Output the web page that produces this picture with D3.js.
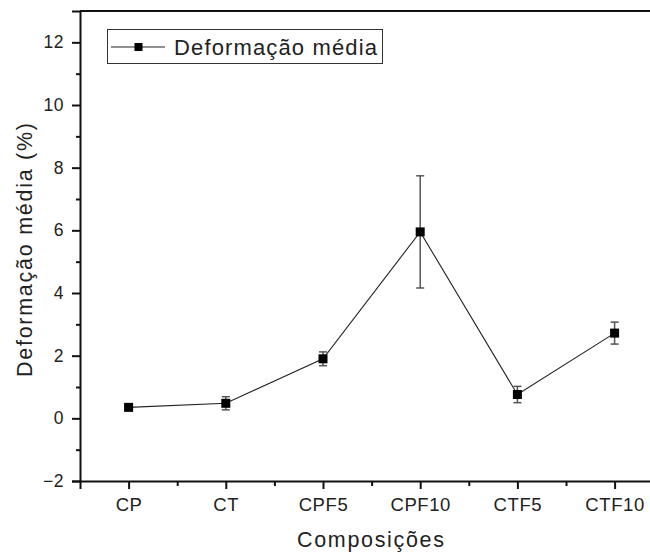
<!DOCTYPE html>
<html>
<head>
<meta charset="utf-8">
<script src="https://cdn.jsdelivr.net/npm/d3@7"></script>
<style>
  body { margin: 0; background: #fff; }
  text { font-family: "Liberation Sans", Arial, sans-serif; fill: #222; }
</style>
</head>
<body>
<div id="divbody"></div>
<script>
var categories = ["CP", "CT", "CPF5", "CPF10", "CTF5", "CTF10"];
var means = [0.35, 0.48, 1.9, 5.95, 0.76, 2.72];
var errors = [0.05, 0.21, 0.22, 1.79, 0.26, 0.35];
var yTicks = [-2, 0, 2, 4, 6, 8, 10, 12];

var width = 650, height = 557;
var plotLeft = 80, plotTop = 11, plotBottom = 481;
var step = 97.2;
var plotRight = plotLeft + step * 6;

var svg = d3.select("#divbody").append("svg")
  .attr("width", width)
  .attr("height", height);

var x = d3.scaleLinear().domain([0.5, 6.5]).range([plotLeft, plotRight]);
var y = d3.scaleLinear().domain([-2, 13]).range([plotBottom, plotTop]);

var data = categories.map(function(c, i) {
  return {name: c, pos: i + 1, v: means[i], e: errors[i]};
});

// top frame line (right side falls off the picture)
svg.append("line")
  .attr("x1", plotLeft).attr("x2", plotRight)
  .attr("y1", plotTop).attr("y2", plotTop)
  .attr("stroke", "#111").attr("stroke-width", 2);

// y axis
var yAxis = svg.append("g")
  .attr("transform", "translate(" + plotLeft + ",0)")
  .call(d3.axisLeft(y).tickValues(yTicks).tickSize(8).tickPadding(8)
    .tickFormat(function(d) { return d < 0 ? "\u2212" + Math.abs(d) : d; }));
yAxis.select(".domain").attr("stroke-width", 2).attr("stroke", "#111");
yAxis.selectAll(".tick line").attr("stroke-width", 2).attr("stroke", "#111");
yAxis.selectAll(".tick text").style("font-size", "17.5px").style("letter-spacing", "0.5px")
  .style("font-family", "Liberation Sans, Arial, sans-serif").attr("fill", "#222");

svg.append("g")
  .attr("transform", "translate(" + plotLeft + ",0)")
  .call(d3.axisLeft(y).tickValues(d3.range(-1, 13, 2)).tickSize(4).tickFormat(""))
  .call(function(g) {
    g.select(".domain").remove();
    g.selectAll("line").attr("stroke-width", 2).attr("stroke", "#111");
  });

// x axis
var xAxis = svg.append("g")
  .attr("transform", "translate(0," + plotBottom + ")")
  .call(d3.axisBottom(x).tickValues(d3.range(1, 7)).tickSize(8).tickPadding(9)
    .tickFormat(function(d) { return categories[d - 1]; }));
xAxis.select(".domain").attr("stroke-width", 2).attr("stroke", "#111");
xAxis.selectAll(".tick line").attr("stroke-width", 2).attr("stroke", "#111");
xAxis.selectAll(".tick text").style("font-size", "18.5px").style("letter-spacing", "0.6px")
  .style("font-family", "Liberation Sans, Arial, sans-serif").attr("fill", "#222");

svg.append("g")
  .attr("transform", "translate(0," + plotBottom + ")")
  .call(d3.axisBottom(x).tickValues(d3.range(1.5, 7, 1)).tickSize(5).tickFormat(""))
  .call(function(g) {
    g.select(".domain").remove();
    g.selectAll("line").attr("stroke-width", 2).attr("stroke", "#111");
  });

// axis titles
svg.append("text")
  .attr("x", 297).attr("y", 547)
  .attr("textLength", 147)
  .style("font-size", "21.5px")
  .text("Composições");

svg.append("text")
  .attr("transform", "translate(32,377) rotate(-90)")
  .attr("textLength", 254)
  .style("font-size", "21.5px")
  .text("Deformação média (%)");

// connecting line
var line = d3.line()
  .x(function(d) { return x(d.pos); })
  .y(function(d) { return y(d.v); });

svg.append("path")
  .datum(data)
  .attr("d", line)
  .attr("fill", "none")
  .attr("stroke", "#222")
  .attr("stroke-width", 1.1);

// error bars
var eb = svg.append("g").selectAll("g")
  .data(data)
  .enter().append("g")
  .attr("stroke", "#555")
  .attr("stroke-width", 1.5);

eb.append("line")
  .attr("x1", function(d) { return x(d.pos); })
  .attr("x2", function(d) { return x(d.pos); })
  .attr("y1", function(d) { return y(d.v + d.e); })
  .attr("y2", function(d) { return y(d.v - d.e); });
eb.append("line")
  .attr("x1", function(d) { return x(d.pos) - 4; })
  .attr("x2", function(d) { return x(d.pos) + 4; })
  .attr("y1", function(d) { return y(d.v + d.e); })
  .attr("y2", function(d) { return y(d.v + d.e); });
eb.append("line")
  .attr("x1", function(d) { return x(d.pos) - 4; })
  .attr("x2", function(d) { return x(d.pos) + 4; })
  .attr("y1", function(d) { return y(d.v - d.e); })
  .attr("y2", function(d) { return y(d.v - d.e); });

// markers
svg.append("g").selectAll("rect")
  .data(data)
  .enter().append("rect")
  .attr("x", function(d) { return x(d.pos) - 4.5; })
  .attr("y", function(d) { return y(d.v) - 4.5; })
  .attr("width", 9)
  .attr("height", 9)
  .attr("fill", "#000");

// legend
var lg = svg.append("g");
lg.append("rect")
  .attr("x", 107.5).attr("y", 29.5)
  .attr("width", 275).attr("height", 34)
  .attr("fill", "#fff")
  .attr("stroke", "#333")
  .attr("stroke-width", 1);
lg.append("line")
  .attr("x1", 111).attr("x2", 165)
  .attr("y1", 47).attr("y2", 47)
  .attr("stroke", "#222").attr("stroke-width", 1.1);
lg.append("rect")
  .attr("x", 134.5).attr("y", 43)
  .attr("width", 8).attr("height", 8)
  .attr("fill", "#000");
lg.append("text")
  .attr("x", 174).attr("y", 54.5)
  .style("font-size", "22px")
  .attr("textLength", 203)
  .text("Deformação média");
</script>
</body>
</html>
